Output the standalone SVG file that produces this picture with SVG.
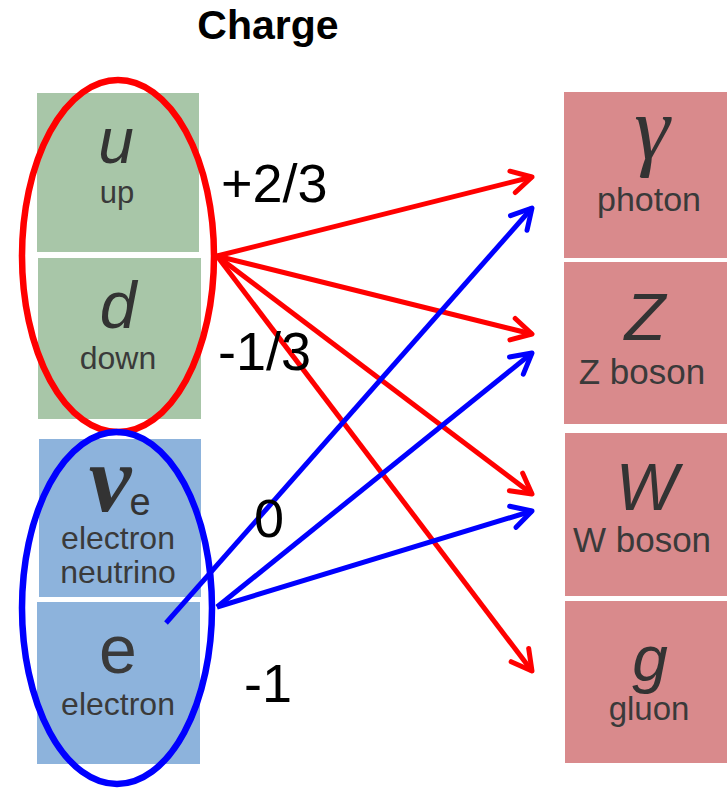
<svg xmlns="http://www.w3.org/2000/svg" width="727" height="788" viewBox="0 0 727 788">
<style>
.g{fill:#a8c6a8}
.b{fill:#8db3dc}
.p{fill:#d98a8c}
.sym{font-family:"Liberation Sans",Arial,sans-serif;font-style:italic;fill:#333;text-anchor:middle}
.lbl{font-family:"Liberation Sans",Arial,sans-serif;fill:#3a3a3a;text-anchor:middle}
.num{font-family:"Liberation Sans",Arial,sans-serif;fill:#000;font-size:54px}
.ring{fill:none;stroke-width:6.5}
.red{stroke:#ff0000;stroke-width:5;fill:none}
.blue{stroke:#0000ff;stroke-width:5;fill:none}
</style>
<defs>
<marker id="ahr" markerUnits="userSpaceOnUse" viewBox="-24 -14 28 28" refX="0" refY="0" markerWidth="28" markerHeight="28" orient="auto">
<path d="M-20,-11 L0,0 L-20,11" fill="none" stroke="#ff0000" stroke-width="5" stroke-linecap="round" stroke-linejoin="round"/>
</marker>
<marker id="ahb" markerUnits="userSpaceOnUse" viewBox="-24 -14 28 28" refX="0" refY="0" markerWidth="28" markerHeight="28" orient="auto">
<path d="M-20,-11 L0,0 L-20,11" fill="none" stroke="#0000ff" stroke-width="5" stroke-linecap="round" stroke-linejoin="round"/>
</marker>
</defs>
<rect width="727" height="788" fill="#fff"/>
<text x="268" y="39" font-family="Liberation Sans,Arial,sans-serif" font-weight="bold" font-size="41" text-anchor="middle">Charge</text>

<g id="up"><rect class="g" x="37" y="93" width="162" height="159"/>
<text class="sym" x="116" y="163" font-size="64">u</text>
<text class="lbl" x="117" y="203" font-size="31">up</text></g>
<g id="down"><rect class="g" x="38" y="258" width="163" height="161"/>
<text class="sym" x="118" y="328" font-size="66">d</text>
<text class="lbl" x="118" y="369" font-size="32">down</text></g>
<g id="neutrino"><rect class="b" x="39" y="439" width="162" height="158"/>
<text x="110" y="511" font-family="Liberation Serif,Times New Roman,serif" font-style="italic" font-weight="bold" font-size="96" fill="#333" text-anchor="middle">ν</text>
<text x="140" y="515" font-family="Liberation Sans,Arial,sans-serif" font-size="38" fill="#333" text-anchor="middle">e</text>
<text class="lbl" x="118" y="549" font-size="32">electron</text>
<text class="lbl" x="118" y="583" font-size="32">neutrino</text></g>
<g id="electron"><rect class="b" x="37" y="602" width="163" height="162"/>
<text class="lbl" x="118" y="673" font-size="68" fill="#333">e</text>
<text class="lbl" x="118" y="715" font-size="32">electron</text></g>

<g id="photon"><rect class="p" x="564" y="92" width="163" height="166"/>
<text x="652" y="159" font-family="Liberation Serif,Times New Roman,serif" font-style="italic" font-size="90" fill="#333" text-anchor="middle">γ</text>
<text class="lbl" x="649" y="211" font-size="34">photon</text></g>
<g id="zboson"><rect class="p" x="564" y="262" width="163" height="162"/>
<text class="sym" x="645" y="340" font-size="67">Z</text>
<text class="lbl" x="642" y="384" font-size="35">Z boson</text></g>
<g id="wboson"><rect class="p" x="565" y="433" width="162" height="163"/>
<text class="sym" x="647" y="510" font-size="66">W</text>
<text class="lbl" x="642" y="552" font-size="35">W boson</text></g>
<g id="gluon"><rect class="p" x="565" y="601" width="162" height="162"/>
<text class="sym" x="650" y="681" font-size="64">g</text>
<text class="lbl" x="649" y="720" font-size="33">gluon</text></g>

<g id="groups">
<ellipse class="ring" cx="118" cy="256" rx="96" ry="176" stroke="#ff0000"/>
<ellipse class="ring" cx="117" cy="608" rx="95" ry="176" stroke="#0000ff"/>
</g>

<g id="connectors">
<line class="red" x1="217" y1="256" x2="532" y2="177" marker-end="url(#ahr)"/>
<line class="red" x1="217" y1="256" x2="532" y2="334" marker-end="url(#ahr)"/>
<line class="red" x1="217" y1="256" x2="532" y2="494" marker-end="url(#ahr)"/>
<line class="red" x1="217" y1="256" x2="532" y2="671" marker-end="url(#ahr)"/>
<line class="blue" x1="166" y1="623" x2="532" y2="208" marker-end="url(#ahb)"/>
<line class="blue" x1="217" y1="607" x2="532" y2="353" marker-end="url(#ahb)"/>
<line class="blue" x1="217" y1="607" x2="532" y2="511" marker-end="url(#ahb)"/>
</g>

<g id="charges">
<text class="num" x="221" y="202">+2/3</text>
<text class="num" x="218" y="370">-1/3</text>
<text class="num" x="254" y="537">0</text>
<text class="num" x="244" y="702">-1</text>
</g>
</svg>
